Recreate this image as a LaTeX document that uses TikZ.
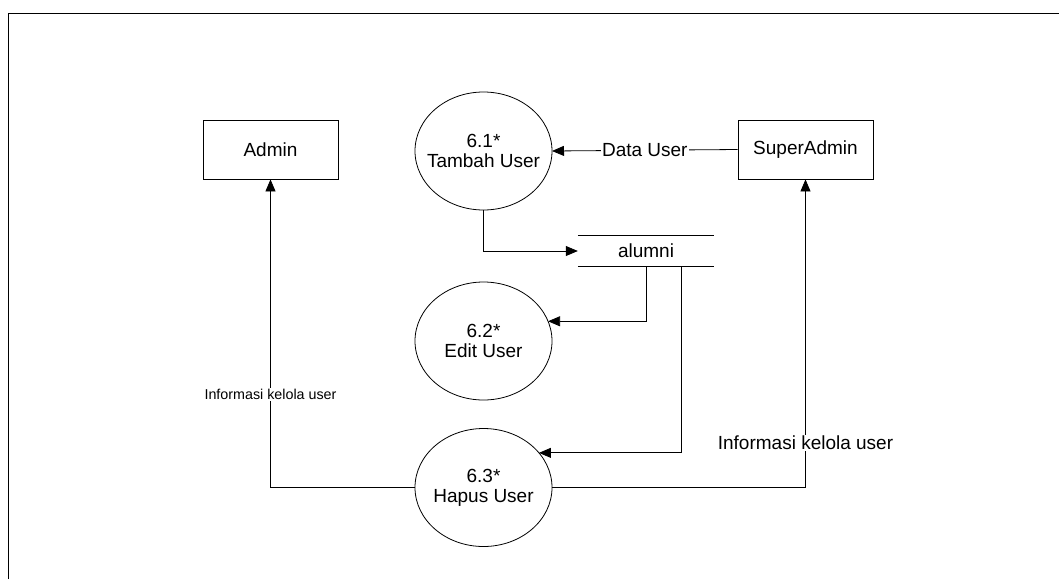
\documentclass[tikz,border=0pt]{standalone}
\usepackage{fontspec}
\setmainfont{Liberation Sans}
\usetikzlibrary{shapes.geometric,arrows.meta}
\begin{document}
\begin{tikzpicture}[x=1pt,y=-1pt,
  every node/.style={font=\fontsize{19}{20}\selectfont},
  entity/.style={draw,line width=0.8pt,minimum width=135pt,minimum height=59pt,inner sep=0pt},
  proc/.style={draw,line width=0.8pt,ellipse,minimum width=137pt,minimum height=118pt,inner xsep=-10pt,inner ysep=0pt,outer sep=0pt,align=center},
  flow/.style={line width=0.8pt,-{Triangle[length=12pt,width=10pt]}},
  lbl/.style={fill=white,inner sep=1pt},
  smalllbl/.style={fill=white,inner sep=1pt,font=\fontsize{14.3}{16}\selectfont}]
\useasboundingbox (0,0) rectangle (1059,579);
\draw[line width=1pt] (8,579) -- (8,13) -- (1059,13);

\node[entity] (admin) at (270.5,149.5) {Admin};
\node[entity] (sa) at (805.5,149.5) {SuperAdmin};
\node[proc] (p61) at (483.5,151) {6.1*\\Tambah User};
\node[proc] (p62) at (483.5,341) {6.2*\\Edit User};
\node[proc] (p63) at (483.5,487.5) {6.3*\\Hapus User};
\node[minimum width=136pt,minimum height=30pt,inner sep=0pt] (store) at (646,251) {alumni};
\draw[line width=0.8pt] (store.north west) -- (store.north east);
\draw[line width=0.8pt] (store.south west) -- (store.south east);

\draw[flow] (sa.west) -- node[lbl] {Data User} (p61.east);
\draw[flow] (p61.south) |- (store.west);
\draw[flow] (store.south) |- (p62.17);
\draw[flow] ([xshift=35pt]store.south) |- (p63.32);
\draw[flow] (p63.west) -| node[smalllbl,pos=0.651] {Informasi kelola user} (admin.south);
\draw[flow] (p63.east) -| node[lbl,pos=0.573] {Informasi kelola user} (sa.south);
\end{tikzpicture}
\end{document}
